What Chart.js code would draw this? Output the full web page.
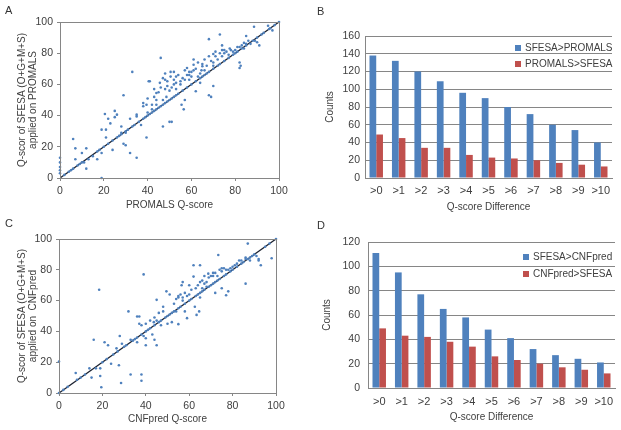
<!DOCTYPE html>
<html>
<head>
<meta charset="utf-8">
<script src="https://cdn.jsdelivr.net/npm/chart.js@4"></script>
<style>
  body { margin: 0; background: #fff; }
  #wrap { position: relative; width: 621px; height: 430px; overflow: hidden; font-family: 'Liberation Sans', Arial, sans-serif; }
  .panel { position: absolute; }
  .tag { position: absolute; font-size: 11px; color: #333; }
</style>
</head>
<body>
<div id="wrap">
  <canvas id="chartA" class="panel" style="left:0;top:0" width="310" height="215"></canvas>
  <canvas id="chartB" class="panel" style="left:310px;top:0" width="311" height="215"></canvas>
  <canvas id="chartC" class="panel" style="left:0;top:215px" width="310" height="215"></canvas>
  <canvas id="chartD" class="panel" style="left:310px;top:215px" width="311" height="215"></canvas>
  <div class="tag" style="left:5px;top:4px">A</div>
  <div class="tag" style="left:317px;top:5px">B</div>
  <div class="tag" style="left:5px;top:217px">C</div>
  <div class="tag" style="left:317px;top:219px">D</div>
</div>
<script>
// scatter A: [PROMALS Q-score, SFESA Q-score]
const promalsPoints = [
  [0,13],[0,10],[0,7],[0,5],[0,3],[2,2],[4,4],[5,5],[6,6],[8,8],[9,9],[11,10],[13,12],[15,14],
  [17,17],[18,18],[20,20],[22,22],[24,24],[26,26],[27,27],[28,28],[30,30],[31,31],[33,33],[34,34],
  [36,36],[38,38],[6,25],[7,19],[7,12],[10,16],[10,10],[12,19],[12,6],[17,12],[19,0],[19,16],
  [19,31],[20.5,41],[21,31],[21,26],[22,38],[23,35],[24,18],[25,43],[25,39],[26,40.6],[28,33],
  [28,29],[29,53],[29,22],[30,21],[30,29],[32,16],[33,68],[32,38],[35,13],[35,40.6],[35,39.5],
  [37,34],[38,48],[38,46],[39.5,47],[39.5,26],[40,42],[40,51],[40.5,62],[41,62],[42,44],[43,57],
  [44,54.5],[44,50],[46,77],[45.6,61],[47,33],[47,64],[48,63],[48,57],[48.6,52],[49,59],[50,36],
  [51,36],[50.5,68],[52,68],[50.5,65],[53,65],[52,60],[53,57],[55,62],[55.5,47],[56.5,44],[57,50],
  [57,69],[58,70.5],[59,66],[59,68],[60,65],[61,72.6],[61,76],[62,55.6],[63,65],[64,61],[64.6,69],
  [65,71.6],[66,76],[67,67],[68,53],[69,52],[68,89],[70,59],[70,79.5],[70,74],[71,78],[73,92],
  [74,85],[74,82],[75,82],[77.5,83],[79,81],[82,84],[82,74],[82,70.5],[82.5,72],[84,86.6],[85,91],
  [85,85],[88.6,97],[89,88],[90,87],[91,85],[95,97.6],[95.5,95.5],[97,94.6],
  [42,47],[43,52],[44,47],[45,55],[46,58],[47,50],[48,67],[49,62],[50,56],[51,58],[52,63],[53,61],
  [54,66],[55,60],[56,64],[57,63],[58,66],[59,63],[60,68],[61,69],[62,70],[63,74],[64,67],[65,73],
  [66,69],[67,72],[68,78],[69,75],[70,72],[71,81],[72,76],[73,80],[74,78],[75,80],[76,81],[77,79],
  [78,82],[80,82],[81,84],[83,85],[84,83],[86,88],[87,86],[92,92],[93,93],[96,96],[98,98],[100,100],
  [39,39],[40,40],[41,41],[42,42],[43,43],[44,44],[45,45],[46,46],[47,47],[48,48],[49,49],[50,50],
  [51,51],[52,52],[53,53],[54,54],[56,56],[58,58],[60,60],[62,62],[64,64],[65,65],[66,66],[68,68],
  [70,70],[72,72],[73,73],[75,75],[77,77],[79,79],[80,80],[81,81],[83,83],[85,86],[88,88],[90,90]
];

// scatter C: [CNFpred Q-score, SFESA Q-score]
const cnfpredPoints = [
  [0,20.5],[0,0],[2,2],[4,4],[7.7,13],[8.3,8.6],[10,10],[12,12],[14,16],[15,10],[16,34.6],[17,16],
  [18.5,67],[19,16],[19,11],[19.5,3.7],[21,33],[22.6,31],[24,19],[26.5,29],[27.6,18],[28,37],
  [28.6,6.5],[29,32],[30,30],[32,53],[33,12],[33,34.6],[35,35],[36,49.7],[36,33],[37,49.7],[37,45],
  [38,12],[38,8],[39,77],[39,37],[40,35.6],[40,31],[42,42],[43,38],[43.7,46],[44,34.6],[45,31],
  [45,60.5],[45,47],[46,46],[47,44],[48,53],[49.5,66],[50,45],[51,64],[52,46],[53,58],[54,53],
  [54,61],[55,44.7],[55,63],[56.5,70],[57,72],[57,62],[58,53],[59,48.6],[59,63],[60,70],[62,75.6],
  [62,83],[62.6,56],[63.4,50.7],[64.6,53],[65,83],[65,62],[66,73],[67,76],[68,69],[68.8,77.5],
  [71,76],[72,65],[73.4,89.6],[75,68],[75,81],[77,63.5],[78,66],[78,80],[81,83],[83,86],[85,85],
  [86,71],[87,97],[88,86],[92,87],[93,83],[98,87.5],[100,100],
  [20,20],[22,22],[25,25],[27,27],[31,31],[34,34],[36,36],[38,38],[40,40],[41,41],[44,44],[47,47],
  [49,49],[50,50],[51,51],[52,52],[53,53],[55,55],[56,56],[58,58],[60,60],[61,61],[63,63],[64,64],
  [65,65],[66,66],[67,67],[69,69],[70,70],[71,71],[72,72],[73,73],[74,74],[76,76],[77,77],[79,79],
  [80,80],[82,82],[84,84],[86,87],[87,87],[89,89],[90,90],[95,95],[97,97],
  [55,62],[56,64],[57,60],[58,65],[60,64],[61,67],[63,68],[64,70],[65,72],[66,68],[67,71],[68,72],
  [69,75],[70,76],[71,78],[72,78],[73,76],[74,80],[75,79],[76,81],[77,80],[79,81],[80,82],[82,84],
  [84,86],[86,88],[88,88],[91,89],[92,86],[48,56],[46,52],[44,49],[42,47],[40,45],[38,44]
];

const diagonal = [[0,0],[100,100]];

// bar charts
const diffLabels = ['>0','>1','>2','>3','>4','>5','>6','>7','>8','>9','>10'];
const sfesaOverPromals = [138,132,120,109,96,90,80,72,60,54,40];
const promalsOverSfesa = [49,45,34,34,26,23,22,20,17,15,13];
const sfesaOverCnfpred = [111,95,77,65,58,48,41,32,27,24,21];
const cnfpredOverSfesa = [49,43,42,38,34,26,23,20,17,15,12];

const FONT = "'Liberation Sans', Arial, sans-serif";
const TXT = '#404040';
const AXIS = '#868686';
const BLUE = '#4f81bd';
const RED = '#c0504d';

Chart.defaults.font.family = FONT;
Chart.defaults.color = TXT;
Chart.defaults.animation = false;

// box around the scatter plot area
const frame = {
  id: 'frame',
  afterDraw(chart) {
    const a = chart.chartArea, c = chart.ctx;
    c.save();
    c.strokeStyle = AXIS;
    c.lineWidth = 1;
    c.strokeRect(Math.round(a.left) + 0.5, Math.round(a.top) + 0.5, Math.round(a.right - a.left), Math.round(a.bottom - a.top));
    c.restore();
  }
};

// legend drawn inside the plot area, stacked
const boxLegend = {
  id: 'boxLegend',
  afterDraw(chart, args, opts) {
    if (!opts || opts.x === undefined) return;
    const c = chart.ctx;
    c.save();
    c.font = '10px ' + FONT;
    c.textBaseline = 'middle';
    chart.data.datasets.forEach((ds, i) => {
      const y = opts.y + i * opts.gap;
      c.fillStyle = ds.backgroundColor;
      c.fillRect(opts.x, y - 3, 6, 6);
      c.fillStyle = TXT;
      c.fillText(ds.label, opts.x + 10, y);
    });
    c.restore();
  }
};

function scatterChart(id, points, xTitle, yTitle, box) {
  return new Chart(document.getElementById(id), {
    type: 'scatter',
    data: {
      datasets: [
        {
          data: points.map(p => ({ x: p[0], y: p[1] })),
          backgroundColor: BLUE,
          borderColor: BLUE,
          pointRadius: 1.3,
          pointBorderWidth: 0,
          clip: 4,
          order: 1
        },
        {
          data: diagonal.map(p => ({ x: p[0], y: p[1] })),
          showLine: true,
          borderColor: '#1c2230',
          borderWidth: 1.3,
          pointRadius: 0,
          order: 2
        }
      ]
    },
    options: {
      responsive: false,
      layout: { padding: { top: box.top, right: box.right, left: 0, bottom: 0 } },
      plugins: { legend: { display: false }, tooltip: { enabled: false } },
      scales: {
        x: {
          min: 0, max: 100,
          ticks: { stepSize: 20, padding: 4, font: { size: 10.5 }, maxRotation: 0 },
          grid: { drawOnChartArea: false, tickLength: 3, color: AXIS },
          border: { color: AXIS },
          title: { display: true, text: xTitle, font: { size: 10 }, padding: { top: 0, bottom: box.xTitlePad } },
          afterFit(s) { s.height = box.xHeight; }
        },
        y: {
          min: 0, max: 100,
          ticks: { stepSize: 20, padding: 4, font: { size: 10.5 } },
          grid: { drawOnChartArea: false, tickLength: 3, color: AXIS },
          border: { color: AXIS },
          title: { display: true, text: yTitle, font: { size: 10, lineHeight: 1.15 }, padding: { top: 16, bottom: 0 } },
          afterFit(s) { s.width = box.yWidth; }
        }
      }
    },
    plugins: [frame]
  });
}

function barChart(id, first, second, labels, max, box) {
  return new Chart(document.getElementById(id), {
    type: 'bar',
    data: {
      labels: diffLabels,
      datasets: [
        { label: labels[0], data: first, backgroundColor: BLUE },
        { label: labels[1], data: second, backgroundColor: RED }
      ]
    },
    options: {
      responsive: false,
      layout: { padding: { top: box.top, right: box.right, left: 0, bottom: 0 } },
      datasets: { bar: { categoryPercentage: 0.6, barPercentage: 1 } },
      plugins: {
        legend: { display: false },
        tooltip: { enabled: false },
        boxLegend: box.legend
      },
      scales: {
        x: {
          ticks: { padding: box.xTickPad, font: { size: 11 }, maxRotation: 0, autoSkip: false },
          grid: { display: false, drawTicks: false },
          border: { color: AXIS },
          title: { display: true, text: 'Q-score Difference', font: { size: 10 }, padding: { top: 0, bottom: box.xTitlePad } },
          afterFit(s) { s.height = box.xHeight; }
        },
        y: {
          min: 0, max: max,
          ticks: { stepSize: 20, padding: box.yTickPad, font: { size: 10.5 } },
          grid: { color: AXIS, drawTicks: false },
          border: { color: AXIS },
          title: { display: true, text: 'Counts', font: { size: 10 }, padding: { top: box.yTitlePad, bottom: 0 } },
          afterFit(s) { s.width = box.yWidth; }
        }
      }
    },
    plugins: [boxLegend]
  });
}

scatterChart('chartA', promalsPoints, 'PROMALS Q-score',
  ['Q-scor of SFESA (O+G+M+S)', 'applied on PROMALS'],
  { top: 22, right: 31, yWidth: 60, xHeight: 37, xTitlePad: 4 });

scatterChart('chartC', cnfpredPoints, 'CNFpred Q-score',
  ['Q-scor of SFESA (O+G+M+S)', 'applied on  CNFpred'],
  { top: 24, right: 34, yWidth: 59, xHeight: 37, xTitlePad: 5 });

barChart('chartB', sfesaOverPromals, promalsOverSfesa, ['SFESA>PROMALS', 'PROMALS>SFESA'], 160,
  { top: 36, right: 9, yWidth: 55, xHeight: 37, xTickPad: 6, xTitlePad: 2, yTickPad: 5, yTitlePad: 14,
    legend: { x: 205, y: 48, gap: 16 } });

barChart('chartD', sfesaOverCnfpred, cnfpredOverSfesa, ['SFESA>CNFpred', 'CNFpred>SFESA'], 120,
  { top: 27, right: 6, yWidth: 58, xHeight: 42, xTickPad: 7, xTitlePad: 7, yTickPad: 8, yTitlePad: 11,
    legend: { x: 213, y: 42, gap: 17 } });
</script>
</body>
</html>
